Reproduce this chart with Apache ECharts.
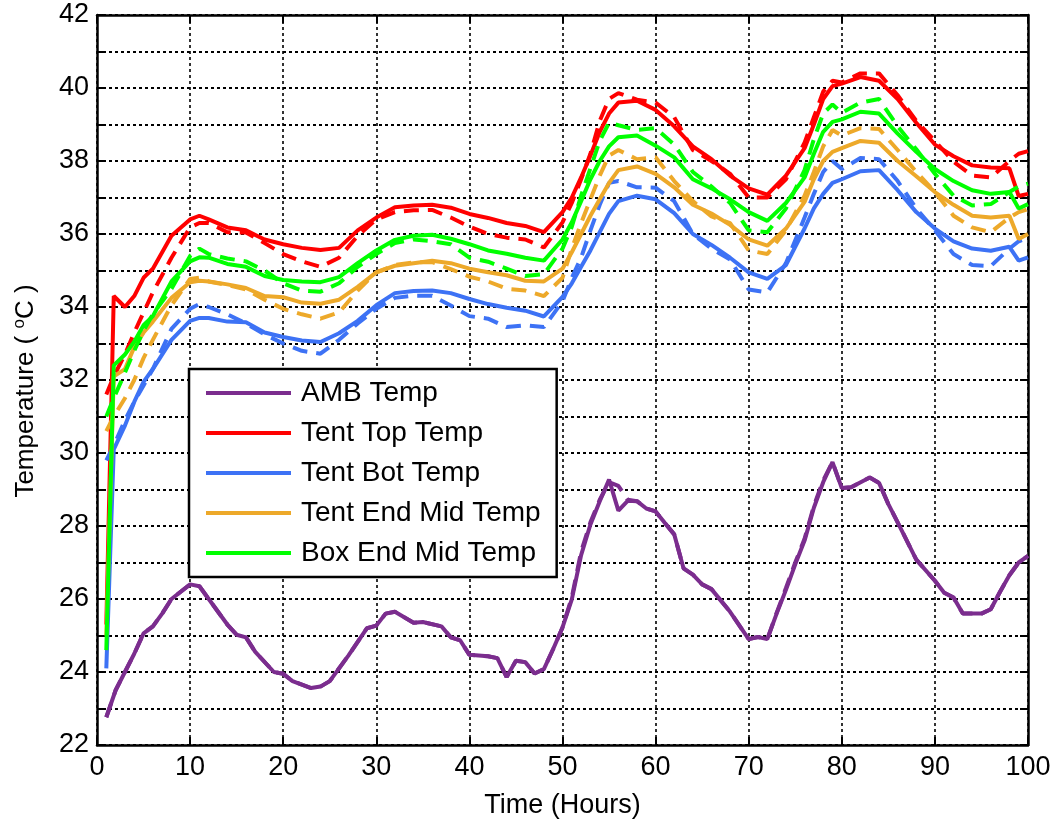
<!DOCTYPE html>
<html>
<head>
<meta charset="utf-8">
<script src="https://cdn.jsdelivr.net/npm/echarts@6/dist/echarts.min.js"></script>
<style>
  html, body { margin: 0; padding: 0; background: #fff; }
  #chart { width: 1056px; height: 824px; }
</style>
</head>
<body>
<div id="chart"></div>
<script>
// hours at which the tent / box curves were read
const upperHours = [1, 1.8, 3, 4, 5, 6, 8, 10, 11, 12, 14, 16, 18, 20, 22, 24, 26, 28, 30, 32, 34, 36, 38, 40, 42, 44, 46, 48, 50, 51, 52, 53, 54, 55, 56, 58, 60, 62, 64, 66, 68, 70, 72, 74, 76, 77, 78, 79, 80, 82, 84, 86, 88, 90, 92, 94, 96, 98, 99, 100]

// solid = measured, dashed = second trace
const tentTop = [25.3, 34.3, 34.0, 34.3, 34.8, 35.05, 35.95, 36.4, 36.5, 36.4, 36.18, 36.1, 35.85, 35.72, 35.62, 35.56, 35.62, 36.1, 36.45, 36.73, 36.78, 36.8, 36.72, 36.55, 36.44, 36.3, 36.22, 36.05, 36.6, 37.0, 37.55, 38.15, 38.8, 39.3, 39.6, 39.65, 39.4, 38.95, 38.4, 38.05, 37.6, 37.25, 37.08, 37.6, 38.35, 39.0, 39.7, 40.05, 40.12, 40.3, 40.2, 39.7, 39.05, 38.45, 38.13, 37.88, 37.82, 37.8, 37.04, 37.1]
const tentTopDash = [31.6, 32.1, 32.7, 33.3, 33.85, 34.4, 35.35, 36.18, 36.3, 36.3, 36.05, 36.04, 35.75, 35.45, 35.25, 35.1, 35.35, 35.95, 36.4, 36.6, 36.65, 36.66, 36.45, 36.2, 36.0, 35.9, 35.85, 35.63, 36.32, 36.85, 37.5, 38.2, 39.1, 39.7, 39.86, 39.68, 39.6, 39.2, 38.3, 38.0, 37.65, 37.0, 37.0, 37.5, 38.5, 39.2, 39.9, 40.2, 40.15, 40.4, 40.4, 39.8, 39.1, 38.55, 37.98, 37.6, 37.55, 38.0, 38.2, 38.27]

const tentBot = [24.1, 30.1, 30.75, 31.4, 31.95, 32.3, 33.1, 33.62, 33.7, 33.7, 33.6, 33.58, 33.3, 33.18, 33.08, 33.04, 33.28, 33.62, 34.05, 34.38, 34.44, 34.45, 34.38, 34.22, 34.08, 33.98, 33.9, 33.74, 34.28, 34.65, 35.1, 35.55, 36.05, 36.55, 36.9, 37.05, 36.95, 36.57, 36.0, 35.7, 35.35, 34.95, 34.77, 35.15, 36.15, 36.7, 37.1, 37.4, 37.5, 37.72, 37.75, 37.2, 36.6, 36.15, 35.8, 35.6, 35.54, 35.65, 35.27, 35.36]
const tentBotDash = [29.8, 30.2, 30.9, 31.4, 31.85, 32.3, 33.4, 33.95, 34.08, 34.0, 33.8, 33.55, 33.25, 33.0, 32.8, 32.72, 33.1, 33.55, 33.95, 34.25, 34.31, 34.31, 34.04, 33.75, 33.68, 33.45, 33.5, 33.45, 34.15, 34.8, 35.35, 36.1, 36.8, 37.4, 37.45, 37.28, 37.27, 36.9, 36.0, 35.6, 35.3, 34.48, 34.4, 35.2, 36.45, 37.1, 37.7, 38.0, 37.78, 38.08, 38.05, 37.45, 36.7, 36.1, 35.45, 35.15, 35.12, 35.6, 35.8, 35.9]

const tentEndMid = [25.0, 32.1, 32.3, 32.9, 33.3, 33.6, 34.25, 34.68, 34.72, 34.7, 34.62, 34.52, 34.3, 34.27, 34.12, 34.09, 34.2, 34.55, 34.95, 35.13, 35.2, 35.27, 35.2, 35.05, 34.95, 34.87, 34.72, 34.7, 35.05, 35.5, 36.0, 36.5, 36.95, 37.4, 37.75, 37.85, 37.65, 37.28, 36.8, 36.56, 36.25, 35.85, 35.68, 36.15, 36.88, 37.5, 38.0, 38.25, 38.35, 38.55, 38.5, 38.0, 37.58, 37.15, 36.8, 36.5, 36.45, 36.5, 35.86, 36.0]
const tentEndMidDash = [30.6, 31.0, 31.5, 32.0, 32.6, 33.1, 34.05, 34.77, 34.8, 34.7, 34.6, 34.48, 34.2, 33.95, 33.8, 33.68, 33.85, 34.45, 34.95, 35.15, 35.22, 35.23, 35.04, 34.83, 34.7, 34.5, 34.45, 34.3, 34.8, 35.6, 36.3, 36.95, 37.6, 38.15, 38.3, 38.05, 38.1, 37.45, 36.9, 36.48, 36.3, 35.55, 35.45, 36.1, 37.05, 37.7, 38.4, 38.85, 38.7, 38.9, 38.88, 38.3, 37.7, 37.15, 36.5, 36.18, 36.05, 36.45, 36.6, 36.68]

const boxEndMid = [24.6, 32.4, 32.7, 33.05, 33.5, 33.75, 34.7, 35.25, 35.36, 35.35, 35.18, 35.1, 34.85, 34.74, 34.7, 34.68, 34.82, 35.2, 35.55, 35.84, 35.95, 35.98, 35.87, 35.72, 35.55, 35.46, 35.35, 35.27, 35.85, 36.32, 36.9, 37.5, 38.0, 38.4, 38.65, 38.7, 38.42, 38.1, 37.5, 37.25, 36.95, 36.6, 36.36, 36.85, 37.55, 38.2, 38.8, 39.07, 39.14, 39.35, 39.3, 38.75, 38.25, 37.78, 37.45, 37.2, 37.1, 37.15, 36.7, 36.82]
const boxEndMidDash = [31.0, 31.5, 32.2, 32.8, 33.35, 33.8, 34.5, 35.4, 35.6, 35.45, 35.33, 35.25, 35.0, 34.65, 34.45, 34.42, 34.65, 35.1, 35.45, 35.75, 35.85, 35.8, 35.72, 35.35, 35.24, 35.05, 34.85, 34.9, 35.6, 36.2, 37.05, 37.8, 38.55, 39.05, 38.98, 38.85, 38.9, 38.45, 37.7, 37.3, 36.85, 36.1, 36.05, 36.7, 37.75, 38.6, 39.3, 39.55, 39.32, 39.6, 39.7, 38.95, 38.32, 37.65, 37.05, 36.78, 36.82, 37.15, 37.3, 37.38]

// ambient
const ambHours = [1, 2, 3, 4, 5, 6, 7, 8, 10, 11, 12, 14, 15, 16, 17, 19, 20, 21, 23, 24, 25, 27, 29, 30, 31, 32, 34, 35, 37, 38, 39, 40, 42, 43, 44, 45, 46, 47, 48, 49, 50, 51, 52, 53, 54, 55, 56, 57, 58, 59, 60, 61, 62, 63, 64, 65, 66, 68, 70, 71, 72, 73, 74, 75, 76, 77, 78, 79, 80, 81, 83, 84, 85, 86, 88, 90, 91, 92, 93, 95, 96, 97, 98, 99, 100]
const ambTemp = [22.76, 23.5, 24.0, 24.5, 25.06, 25.25, 25.6, 26.0, 26.4, 26.35, 26.0, 25.3, 25.02, 24.95, 24.55, 24.0, 23.95, 23.75, 23.56, 23.6, 23.75, 24.45, 25.2, 25.27, 25.6, 25.65, 25.35, 25.37, 25.25, 24.95, 24.87, 24.47, 24.43, 24.38, 23.86, 24.31, 24.27, 23.96, 24.08, 24.63, 25.22, 25.99, 27.2, 28.04, 28.68, 29.27, 28.42, 28.69, 28.68, 28.48, 28.4, 28.08, 27.77, 26.84, 26.67, 26.4, 26.27, 25.65, 24.9, 24.96, 24.9, 25.6, 26.25, 26.95, 27.6, 28.5, 29.2, 29.75, 29.04, 29.06, 29.33, 29.18, 28.6, 28.1, 27.08, 26.5, 26.17, 26.04, 25.6, 25.6, 25.72, 26.2, 26.65, 27.0, 27.18]
const ambTempDash = [22.76, 23.5, 24.0, 24.5, 25.06, 25.25, 25.6, 26.0, 26.4, 26.35, 26.0, 25.3, 25.02, 24.95, 24.55, 24.0, 23.95, 23.75, 23.56, 23.6, 23.75, 24.45, 25.2, 25.27, 25.6, 25.65, 25.35, 25.37, 25.25, 24.95, 24.87, 24.47, 24.43, 24.38, 23.86, 24.31, 24.27, 23.96, 24.08, 24.63, 25.22, 26.05, 27.3, 28.1, 28.72, 29.2, 29.1, 28.72, 28.68, 28.48, 28.4, 28.08, 27.77, 26.84, 26.67, 26.4, 26.27, 25.65, 24.9, 24.96, 24.9, 25.62, 26.3, 27.0, 27.65, 28.55, 29.25, 29.75, 29.04, 29.06, 29.33, 29.18, 28.6, 28.1, 27.08, 26.5, 26.17, 26.04, 25.6, 25.6, 25.72, 26.2, 26.65, 27.0, 27.18]

const seriesNames = ['AMB Temp', 'Tent Top Temp', 'Tent Bot Temp', 'Tent End Mid Temp', 'Box End Mid Temp']
const seriesColors = ['#7b2d8e', '#ff0000', '#3d72f5', '#eda92a', '#00ff00']

const FONT = 'Liberation Sans, Arial, Helvetica, sans-serif'

function pairs(xs, ys) {
  return xs.map((x, i) => [x, ys[i]])
}

function lineSeries(name, color, data, dashed) {
  return {
    name: name,
    type: 'line',
    data: data,
    symbol: 'none',
    animation: false,
    lineStyle: {
      color: color,
      width: 4,
      type: dashed ? [15, 9] : 'solid'
    },
    itemStyle: {color: color}
  }
}

const curves = [
  [ambHours, ambTemp, ambTempDash],
  [upperHours, tentTop, tentTopDash],
  [upperHours, tentBot, tentBotDash],
  [upperHours, tentEndMid, tentEndMidDash],
  [upperHours, boxEndMid, boxEndMidDash]
]

const series = []
curves.forEach((c, i) => {
  series.push(lineSeries(seriesNames[i], seriesColors[i], pairs(c[0], c[1]), false))
  series.push(lineSeries(seriesNames[i] + ' (dash)', seriesColors[i], pairs(c[0], c[2]), true))
})

const chart = echarts.init(document.getElementById('chart'))
chart.setOption({
  backgroundColor: '#fff',
  animation: false,
  grid: {left: 97, right: 28, top: 15, bottom: 76},
  legend: {
    data: seriesNames,
    orient: 'vertical',
    left: 189,
    top: 369,
    icon: 'rect',
    itemWidth: 85,
    itemHeight: 4,
    itemGap: 12,
    padding: [10, 16, 10, 17],
    backgroundColor: '#fff',
    borderColor: '#000',
    borderWidth: 2.5,
    borderRadius: 0,
    textStyle: {color: '#000', fontSize: 28, fontFamily: FONT, padding: [0, 0, 0, 5]}
  },
  xAxis: [{
    type: 'value',
    min: 0,
    max: 100,
    interval: 10,
    name: 'Time (Hours)',
    nameLocation: 'middle',
    nameGap: 47,
    nameTextStyle: {color: '#000', fontSize: 27, fontFamily: FONT},
    axisLine: {show: true, onZero: false, lineStyle: {color: '#000', width: 2.5}},
    axisTick: {show: true, inside: true, length: 8, lineStyle: {color: '#000', width: 2}},
    axisLabel: {color: '#000', fontSize: 27, fontFamily: FONT, margin: 9},
    splitLine: {show: true, lineStyle: {color: '#000', width: 1.6, type: [3, 3]}}
  }, {
    type: 'value',
    position: 'top',
    min: 0,
    max: 100,
    interval: 10,
    axisLine: {show: true, onZero: false, lineStyle: {color: '#000', width: 2.5}},
    axisTick: {show: true, inside: true, length: 8, lineStyle: {color: '#000', width: 2}},
    axisLabel: {show: false},
    splitLine: {show: false}
  }],
  yAxis: [{
    type: 'value',
    min: 22,
    max: 42,
    interval: 1,
    name: 'Temperature ( {sup|o}C )',
    nameLocation: 'middle',
    nameGap: 57,
    nameTextStyle: {
      color: '#000', fontSize: 26, fontFamily: FONT, padding: [0, 22, 0, 0],
      rich: {sup: {fontSize: 17, fontFamily: FONT, color: '#000', padding: [0, 0, 12, 0]}}
    },
    axisLine: {show: true, onZero: false, lineStyle: {color: '#000', width: 2.5}},
    axisTick: {show: true, inside: true, length: 8, lineStyle: {color: '#000', width: 2}},
    axisLabel: {
      color: '#000', fontSize: 27, fontFamily: FONT, margin: 8,
      formatter: v => (v % 2 === 0 ? String(v) : '')
    },
    splitLine: {show: true, lineStyle: {color: '#000', width: 2, type: [3, 3]}}
  }, {
    type: 'value',
    position: 'right',
    min: 22,
    max: 42,
    interval: 1,
    axisLine: {show: true, onZero: false, lineStyle: {color: '#000', width: 2.5}},
    axisTick: {show: true, inside: true, length: 8, lineStyle: {color: '#000', width: 2}},
    axisLabel: {show: false},
    splitLine: {show: false}
  }],
  series: series
})
</script>
</body>
</html>
